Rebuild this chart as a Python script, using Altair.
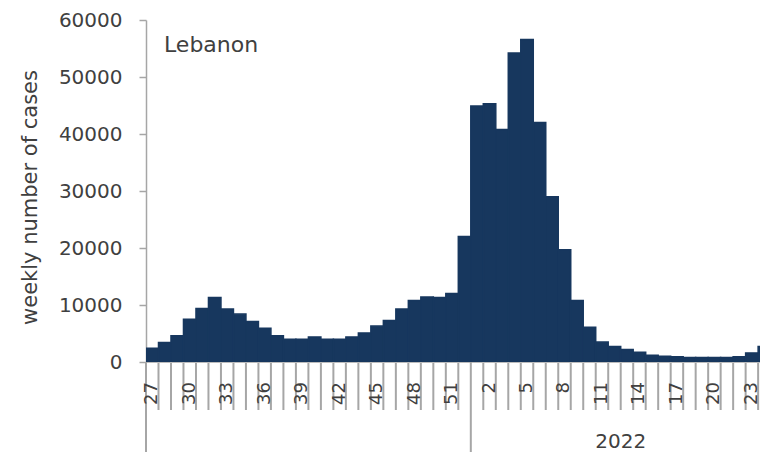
import altair as alt
import pandas as pd

# ---- data ----
weeks_2021 = list(range(27, 53))
cases_2021 = [2400, 3400, 4600, 7500, 9400, 11300, 9300, 8400, 7100, 5900,
              4600, 4000, 4000, 4400, 4000, 4000, 4400, 5100, 6300, 7300,
              9300, 10800, 11400, 11300, 12000, 22000]
weeks_2022 = list(range(1, 25))
cases_2022 = [44900, 45300, 40800, 54200, 56600, 42000, 29000, 19700, 10800, 6100,
              3500, 2700, 2200, 1700, 1200, 1000, 900, 800, 800, 800,
              800, 900, 1600, 2700]
labeled_weeks_2021 = [27, 30, 33, 36, 39, 42, 45, 48, 51]
labeled_weeks_2022 = [2, 5, 8, 11, 14, 17, 20, 23]
year_labels = ["", "2022"]
y_ticks = [0, 10000, 20000, 30000, 40000, 50000, 60000]
country = "Lebanon"
y_title = "weekly number of cases"

# ---- build tables ----
rows = []
i = 0
for yr, weeks, cases, labeled in [(2021, weeks_2021, cases_2021, labeled_weeks_2021),
                                  (2022, weeks_2022, cases_2022, labeled_weeks_2022)]:
    for w, c in zip(weeks, cases):
        rows.append({"start": i, "end": i + 1, "mid": i + 0.5, "week": w, "year": yr,
                     "cases": c, "label": str(w) if w in labeled else ""})
        i += 1
df = pd.DataFrame(rows)

n2021 = len(weeks_2021)
n_visible = 49.15
short_b = pd.DataFrame({"b": [b for b in range(1, 50) if b != n2021]})
long_b = pd.DataFrame({"b": [0, n2021]})
year_df = pd.DataFrame({"x": [n2021 / 2, n2021 + len(weeks_2022) / 2], "t": year_labels})
country_df = pd.DataFrame({"t": [country]})

W, H = 614, 342
FONT = "DejaVu Sans"
TXT = "#404040"
GREY = "#A6A6A6"
NAVY = "#17375E"

xs = alt.Scale(domain=[0, n_visible], nice=False, zero=False)
ys = alt.Scale(domain=[0, 60000], nice=False)

base = alt.Chart(df)

baseline = alt.Chart(pd.DataFrame({"a": [0], "b": [n_visible]})).mark_rule(
    color=GREY, strokeWidth=1.5).encode(
    x=alt.X("a:Q", scale=xs, axis=None), x2="b:Q", y=alt.value(H))

bars = base.mark_rect(color=NAVY, stroke=NAVY, strokeWidth=1.5, strokeOpacity=1,
                      fillOpacity=1, clip=True).encode(
    x=alt.X("start:Q", scale=xs, axis=None),
    x2="end:Q",
    y=alt.Y("cases:Q", scale=ys,
            axis=alt.Axis(values=y_ticks, format="d", grid=False,
                          labelFont=FONT, labelFontSize=20, labelColor=TXT,
                          labelPadding=17, labelFlush=False, labelOverlap=False,
                          tickSize=7, tickColor=GREY, tickWidth=1.5,
                          domainColor=GREY, domainWidth=1.5,
                          title=y_title, titleFont=FONT, titleFontSize=21,
                          titleFontWeight="normal", titleColor=TXT,
                          titleX=-106, titleY=177)),
    y2=alt.datum(0),
)

short_ticks = alt.Chart(short_b).mark_rule(color=GREY, strokeWidth=2).encode(
    x=alt.X("b:Q", scale=xs, axis=None), y=alt.value(H + 1), y2=alt.value(H + 48))

long_ticks = alt.Chart(long_b).mark_rule(color=GREY, strokeWidth=2).encode(
    x=alt.X("b:Q", scale=xs, axis=None), y=alt.value(H), y2=alt.value(H + 100))

week_labels = base.transform_filter(alt.datum.label != "").mark_text(
    font=FONT, fontSize=18, color=TXT, angle=270, align="right", baseline="middle").encode(
    x=alt.X("mid:Q", scale=xs, axis=None), y=alt.value(H + 20), text="label:N")

year_text = alt.Chart(year_df).mark_text(
    font=FONT, fontSize=20, color=TXT, align="center", baseline="alphabetic").encode(
    x=alt.X("x:Q", scale=xs, axis=None), y=alt.value(H + 86), text="t:N")

country_text = alt.Chart(country_df).mark_text(
    font=FONT, fontSize=22, color=TXT, align="left", baseline="alphabetic").encode(
    x=alt.value(18), y=alt.value(32), text="t:N")

chart = alt.layer(baseline, bars, short_ticks, long_ticks, week_labels, year_text, country_text).properties(
    width=W, height=H,
    padding={"left": 138, "top": 12, "right": 0, "bottom": 90},
    autosize=alt.AutoSizeParams(type="none"),
    background="white",
).configure_view(stroke=None)

chart.save("out.html", embed_options={"renderer": "svg", "actions": False})
